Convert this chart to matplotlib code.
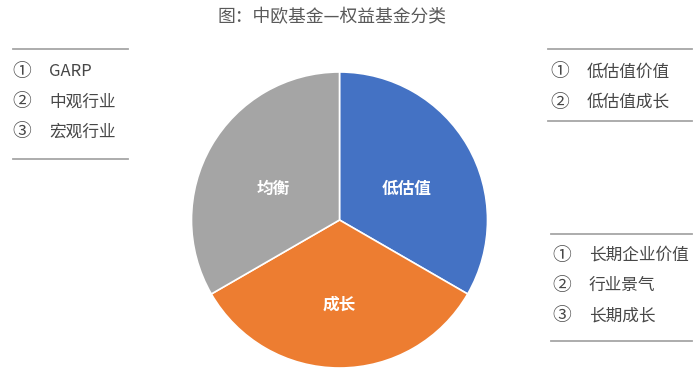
import matplotlib.pyplot as plt
from matplotlib.lines import Line2D

plt.rcParams['font.family'] = ['Noto Sans CJK SC', 'DejaVu Sans']

title = "图：中欧基金—权益基金分类"
categories = ["低估值", "成长", "均衡"]
shares = [1, 1, 1]
colors = ["#4472C4", "#ED7D31", "#A5A5A5"]

nums = ["①", "②", "③"]
left_items = ["GARP", "中观行业", "宏观行业"]
right_top_items = ["低估值价值", "低估值成长"]
right_bottom_items = ["长期企业价值", "行业景气", "长期成长"]

W, H = 700, 380
fig = plt.figure(figsize=(W / 100, H / 100), dpi=100)


def fx(x):
    return x / W


def fy(y):
    return 1 - y / H


# pie, centre (339.5, 220) px, radius 148 px
cx, cy, r = 339.5, 220, 148
ax = fig.add_axes([fx(cx - r), fy(cy + r), 2 * r / W, 2 * r / H])
wedges, texts = ax.pie(shares, labels=categories, colors=colors, startangle=90,
                       counterclock=False, labeldistance=0.52,
                       wedgeprops=dict(edgecolor="white", linewidth=1.2),
                       textprops=dict(color="white", fontsize=12, fontweight="bold"))
for t in texts:
    t.set_ha("center")
    t.set_va("center")
    x, y = t.get_position()
    t.set_position((x, y - 0.05))
ax.set_xlim(-1, 1)
ax.set_ylim(-1, 1)
ax.set_aspect("equal")
ax.axis("off")

fig.text(fx(332), fy(17), title, fontsize=12.8, color="#595959", ha="center", va="center")

line_col = "#A6A6A6"
txt_col = "#474747"


def hline(x0, x1, y):
    fig.add_artist(Line2D([fx(x0), fx(x1)], [fy(y), fy(y)], transform=fig.transFigure,
                          color=line_col, linewidth=1.3))


def block(items, xnum, xtxt, ytop, step):
    for i, s in enumerate(items):
        y = ytop + i * step
        fig.text(fx(xnum), fy(y), nums[i], fontsize=13.5, color=txt_col, ha="center", va="center")
        fig.text(fx(xtxt), fy(y), s, fontsize=12, color=txt_col, ha="left", va="center")


hline(13, 128, 49)
hline(13, 128, 159)
block(left_items, 22, 49, 72, 30)

hline(548, 692, 49)
hline(548, 692, 121)
block(right_top_items, 560, 587, 72, 30.5)

hline(551, 692, 234)
hline(551, 692, 341)
block(right_bottom_items, 562, 589, 255, 30.5)

fig.savefig("out.png", dpi=100)
